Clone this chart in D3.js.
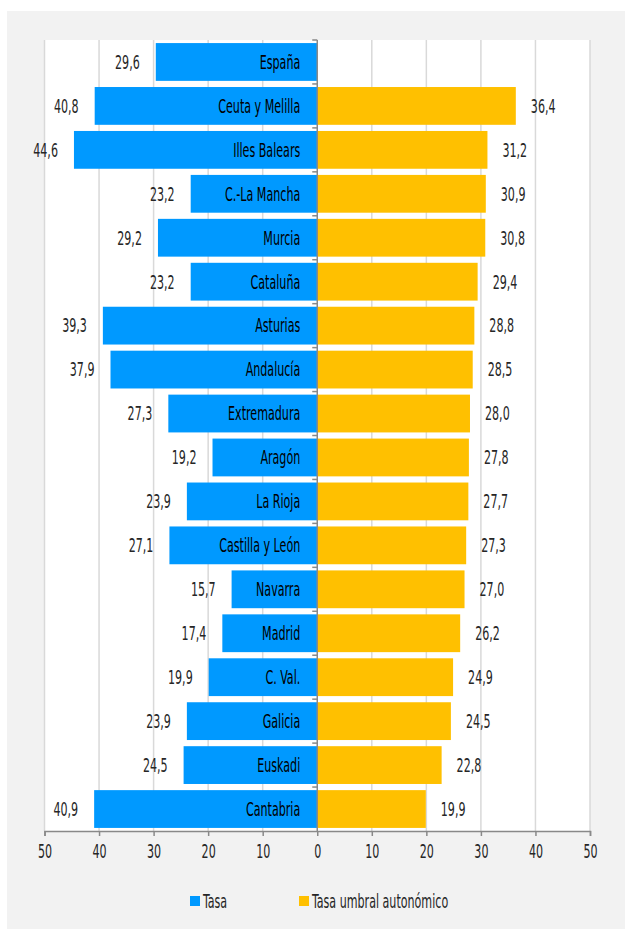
<!DOCTYPE html>
<html>
<head>
<meta charset="utf-8">
<script src="https://cdn.jsdelivr.net/npm/d3@7"></script>
<style>
  html, body { margin: 0; padding: 0; background: #ffffff; }
  svg { display: block; }
  text { font-family: 'DejaVu Sans Condensed', 'DejaVu Sans', sans-serif; font-stretch: condensed; fill: #262626; }
</style>
</head>
<body>
<script>
const categories = ["España","Ceuta y Melilla","Illes Balears","C.-La Mancha","Murcia","Cataluña","Asturias","Andalucía","Extremadura","Aragón","La Rioja","Castilla y León","Navarra","Madrid","C. Val.","Galicia","Euskadi","Cantabria"];
const tasa = [29.6,40.8,44.6,23.2,29.2,23.2,39.3,37.9,27.3,19.2,23.9,27.1,15.7,17.4,19.9,23.9,24.5,40.9];
const tasaUmbral = [null,36.4,31.2,30.9,30.8,29.4,28.8,28.5,28.0,27.8,27.7,27.3,27.0,26.2,24.9,24.5,22.8,19.9];
const tickValues = [-50,-40,-30,-20,-10,0,10,20,30,40,50];
const seriesNames = ["Tasa","Tasa umbral autonómico"];
const colors = ["#0099ff","#ffc000"];

const W = 625, H = 929;
const plot = {left: 44.5, right: 590, top: 40, bottom: 831};
const FS = 19, SX = 0.65;

const svg = d3.select("body").append("svg").attr("width", W).attr("height", H);

svg.append("rect").attr("x", 7).attr("y", 11).attr("width", W - 7).attr("height", H - 11).attr("fill", "#f2f2f2");
svg.append("rect").attr("x", plot.left).attr("y", plot.top)
  .attr("width", plot.right - plot.left).attr("height", plot.bottom - plot.top).attr("fill", "#ffffff");

const x = d3.scaleLinear().domain([-50, 50]).range([plot.left, plot.right]);
const y = d3.scaleBand().domain(categories).range([plot.top, plot.bottom]).paddingInner(0.14).paddingOuter(0.07);
const fmt = v => d3.format(".1f")(v).replace(".", ",");

function label(sel, fx, fy, anchor, txt, fill) {
  sel.attr("transform", d => `translate(${fx(d)},${fy(d)}) scale(${SX},1)`)
    .attr("x", 0).attr("y", 0).attr("dy", "0.36em")
    .attr("text-anchor", anchor).attr("font-size", FS)
    .style("fill", fill || "#262626")
    .text(txt);
}

// gridlines
svg.append("g").selectAll("line").data(tickValues.filter(d => d !== 0)).join("line")
  .attr("x1", d => x(d)).attr("x2", d => x(d))
  .attr("y1", plot.top).attr("y2", plot.bottom)
  .attr("stroke", "#d9d9d9").attr("stroke-width", 1.5);

const data = categories.map((c, i) => ({c, a: tasa[i], b: tasaUmbral[i]}));
const cy = d => y(d.c) + y.bandwidth() / 2;

// blue bars
svg.append("g").selectAll("rect").data(data).join("rect")
  .attr("x", d => x(-d.a)).attr("y", d => y(d.c))
  .attr("width", d => x(0) - x(-d.a)).attr("height", y.bandwidth())
  .attr("fill", colors[0]);

// yellow bars
svg.append("g").selectAll("rect").data(data.filter(d => d.b != null)).join("rect")
  .attr("x", x(0)).attr("y", d => y(d.c))
  .attr("width", d => x(d.b) - x(0)).attr("height", y.bandwidth())
  .attr("fill", colors[1]);

// category labels inside blue bars
label(svg.append("g").selectAll("text").data(data).join("text"),
  () => x(0) - 17, cy, "end", d => d.c, "#000000");

// blue value labels
label(svg.append("g").selectAll("text").data(data).join("text"),
  d => x(-d.a) - 16, cy, "end", d => fmt(d.a));

// yellow value labels
label(svg.append("g").selectAll("text").data(data.filter(d => d.b != null)).join("text"),
  d => x(d.b) + 15, cy, "start", d => fmt(d.b));

// center axis with category ticks
const bounds = categories.map(c => y(c) - y.step() * y.paddingInner() / 2);
bounds[0] = plot.top;
const cg = svg.append("g");
cg.append("line").attr("x1", x(0)).attr("x2", x(0)).attr("y1", plot.top).attr("y2", plot.bottom)
  .attr("stroke", "#898989").attr("stroke-width", 1.5);
cg.selectAll("line.t").data(bounds).join("line").attr("class", "t")
  .attr("x1", x(0) - 5).attr("x2", x(0)).attr("y1", d => d).attr("y2", d => d)
  .attr("stroke", "#898989").attr("stroke-width", 1.5);

// bottom axis
const axis = d3.axisBottom(x).tickValues(tickValues).tickSize(5).tickPadding(9)
  .tickFormat(d => Math.abs(d));
const ag = svg.append("g").attr("transform", `translate(0,${plot.bottom})`).call(axis);
ag.select(".domain").attr("stroke", "#898989").attr("stroke-width", 1.5);
ag.selectAll(".tick line").attr("stroke", "#898989").attr("stroke-width", 1.5);
ag.selectAll(".tick text").attr("font-size", FS).attr("transform", `scale(${SX},1)`)
  .style("fill", "#262626")
  .style("font-family", "'DejaVu Sans Condensed', 'DejaVu Sans', sans-serif");

// legend
const legendX = [190, 299];
const lg = svg.append("g");
seriesNames.forEach((n, i) => {
  lg.append("rect").attr("x", legendX[i]).attr("y", 896).attr("width", 10).attr("height", 10).attr("fill", colors[i]);
  label(lg.append("text").datum(n), () => legendX[i] + 13, () => 901, "start", n);
});
</script>
</body>
</html>
